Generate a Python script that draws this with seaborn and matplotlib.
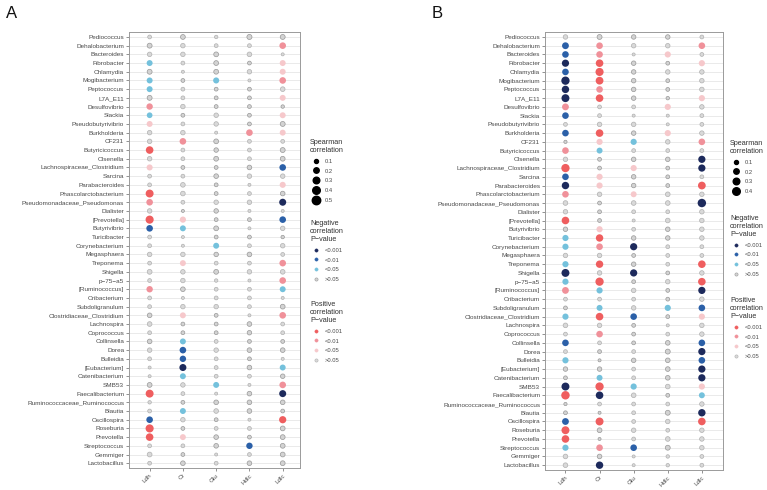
import numpy as np
import pandas as pd
import matplotlib
matplotlib.use("Agg")
import matplotlib.pyplot as plt
import seaborn as sns
from matplotlib.lines import Line2D

genera = ["Pediococcus", "Dehalobacterium", "Bacteroides", "Fibrobacter", "Chlamydia",
          "Mogibacterium", "Peptococcus", "L7A_E11", "Desulfovibrio", "Slackia",
          "Pseudobutyrivibrio", "Burkholderia", "CF231", "Butyricicoccus", "Olsenella",
          "Lachnospiraceae_Clostridium", "Sarcina", "Parabacteroides", "Phascolarctobacterium",
          "Pseudomonadaceae_Pseudomonas", "Dialister", "[Prevotella]", "Butyrivibrio",
          "Turicibacter", "Corynebacterium", "Megasphaera", "Treponema", "Shigella",
          "p\u221275\u2212a5", "[Ruminococcus]", "Oribacterium", "Subdoligranulum",
          "Clostridiaceae_Clostridium", "Lachnospira", "Coprococcus", "Collinsella", "Dorea",
          "Bulleidia", "[Eubacterium]", "Catenibacterium", "SMB53", "Faecalibacterium",
          "Ruminococcaceae_Ruminococcus", "Blautia", "Oscillospira", "Roseburia", "Prevotella",
          "Streptococcus", "Gemmiger", "Lactobacillus"]
measures = ["Ldh", "Cr", "Glu", "Hdlc", "Ldlc"]

# token: letter = direction & p-value class, number = |Spearman r| x 100
# N: neg p<0.001, B: neg p<0.01, L: neg p<0.05, G: neg p>0.05
# R: pos p<0.001, P: pos p<0.01, K: pos p<0.05, W: pos p>0.05
A_Ldh = ("W09 G16 W13 L24 G16 L24 L24 G16 P28 L22 K24 W13 W13 R40 W13 K25 W09 W09 R44 P30 "
         "W13 R46 B30 W09 W09 W13 W09 W15 W09 P28 W09 W09 G14 W14 W09 G14 W13 W09 W05 W05 "
         "G15 R44 W07 W09 B30 R46 R40 W09 W15 W09").split()
A_Cr = ("G15 W13 W13 W09 W05 G09 W09 W09 W13 G09 W09 W13 P30 W09 W09 G09 W09 W14 W14 W09 "
        "G05 K26 L24 W05 W05 W13 K24 W13 W13 G14 W05 W13 K24 G09 G09 L24 B30 B28 N34 L24 "
        "W13 W09 G09 L24 W13 G09 K24 W09 G09 G14").split()
A_Glu = ("W07 W09 G15 G15 G15 L25 G09 G09 G09 W13 W13 W05 G15 G13 G15 G09 G14 G09 G09 W13 "
         "G13 G09 G15 G09 L24 G13 W09 G15 W07 W09 W09 W13 G09 G09 G09 W09 W13 W09 W09 W09 "
         "L24 W05 G14 W14 G09 W09 G14 G14 W05 W09").split()
A_Hdlc = ("G17 W09 W14 G09 W13 W05 G09 G09 G09 G09 G09 P30 W09 W09 W09 G14 W13 W05 W09 W13 "
          "W05 G09 W05 G09 W09 G14 W09 W13 W05 W09 W09 W09 W05 G14 G13 G09 G14 G09 G14 W09 "
          "W05 G14 G14 G14 W05 W09 G09 B28 W09 G14").split()
A_Ldlc = ("G16 P30 W05 K24 K24 P30 W14 K24 G07 K24 G16 K24 W09 G16 G15 B30 W13 K25 G14 N34 "
          "W05 B30 W13 G07 W13 W09 P30 W14 P30 L24 W05 G15 P30 W09 W09 G09 G14 W05 L24 G13 "
          "P30 N34 G14 G09 R36 G15 G15 G15 G15 G15").split()

B_Ldh = ("W13 B32 B30 N36 B30 N48 N38 N44 P32 B30 W09 B30 G06 P30 W13 R48 B30 N38 P30 W14 "
         "W13 R40 G13 L26 L26 W13 L26 N44 L26 P32 W09 G09 L26 W14 W09 B30 W09 L26 G13 G09 "
         "N44 R52 G06 G09 B32 R44 R40 L26 W14 W14").split()
B_Cr = ("G16 P30 P30 R40 R46 R42 P30 R40 W09 W09 W13 R40 K26 L24 G09 G09 K26 K26 W13 G09 "
        "G09 G09 K26 R38 P30 W13 R38 W13 R48 L26 W09 L24 R40 W13 P30 W09 G09 G05 G13 L24 "
        "R48 N40 W09 G05 R44 G15 G05 P30 G14 N38").split()
B_Glu = ("G13 W13 W05 G13 G13 G13 G13 G13 W09 W05 W13 G13 L26 W09 G13 K26 G13 G13 K24 W14 "
         "W09 W05 W09 G13 N36 G09 G13 N36 G09 W13 W09 W13 B30 G09 G09 G09 W09 G13 W09 W09 "
         "L26 W14 W09 W09 W09 W13 W09 B30 W05 W05").split()
B_Hdlc = ("G13 W13 K26 G09 W13 G09 G09 G07 K26 W05 W05 K26 W13 W09 G13 G09 G09 G09 W14 W14 "
          "W09 W14 G13 G13 W09 W09 W09 G09 W13 G09 G09 L26 G09 W05 W09 G14 G16 G14 G14 G14 "
          "W14 G09 W09 G16 W13 W09 W14 G16 W07 W07").split()
B_Ldlc = ("W09 P30 W09 K26 W13 W13 W13 K26 W13 W09 W09 W13 P30 W09 N36 N36 W09 R42 W13 N55 "
          "W13 W13 W13 W13 W09 W09 R40 W13 R40 N36 W13 B30 K26 W13 W13 B30 N36 B30 N36 N36 "
          "K26 L24 W13 N38 R40 W13 W13 W13 W09 W09").split()

panel_A = [A_Ldh, A_Cr, A_Glu, A_Hdlc, A_Ldlc]
panel_B = [B_Ldh, B_Cr, B_Glu, B_Hdlc, B_Ldlc]

classes = {"N": "neg <0.001", "B": "neg <0.01", "L": "neg <0.05", "G": "neg >0.05",
           "R": "pos <0.001", "P": "pos <0.01", "K": "pos <0.05", "W": "pos >0.05"}
palette = {"neg <0.001": "#1d2a5c", "neg <0.01": "#2b60a8", "neg <0.05": "#74c1dc",
           "neg >0.05": "#d3d3d3", "pos <0.001": "#ef5e5f", "pos <0.01": "#f0919a",
           "pos <0.05": "#f6c8cb", "pos >0.05": "#d9d9d9"}
edges = {"neg >0.05": "#989898", "pos >0.05": "#b0b0b0"}


def build(cols):
    rows = []
    for m, col in zip(measures, cols):
        for g, tok in zip(genera, col):
            cls = classes[tok[0]]
            r = int(tok[1:]) / 100
            rho = -r if cls.startswith("neg") else r
            rows.append({"genus": g, "measure": m, "rho": rho, "absr": r, "sig": cls})
    return pd.DataFrame(rows)


SMIN, SMAX = 1.2, 37.0


def msize(r):
    return np.sqrt(SMIN + (SMAX - SMIN) * r / 0.5)


sns.set_style("white")
plt.rcParams["font.family"] = ["Liberation Sans", "DejaVu Sans"]

W, H = 767, 490
fig = plt.figure(figsize=(W / 100, H / 100), dpi=100)

TXT = "#4a4a4a"


def draw_panel(df, rect, xlim):
    ax = fig.add_axes(rect)
    ec = [edges.get(s, "none") for s in df["sig"]]
    sns.scatterplot(data=df, x="measure", y="genus", hue="sig", palette=palette,
                    size="absr", sizes=(SMIN, SMAX), size_norm=(0, 0.5),
                    edgecolor=ec, linewidth=0.5, legend=False, ax=ax, zorder=3)
    ax.set_ylim(49.55, -0.57)
    ax.set_xlim(*xlim)
    ax.set_xlabel("")
    ax.set_ylabel("")
    ax.yaxis.grid(True, color="#e6e6e6", lw=0.6)
    ax.xaxis.grid(False)
    ax.set_axisbelow(True)
    for s in ax.spines.values():
        s.set_visible(True)
        s.set_color("#9a9a9a")
        s.set_linewidth(0.7)
    ax.tick_params(axis="y", length=2, width=0.5, color="#666666", pad=1.5,
                   labelsize=4.6, labelcolor=TXT, left=True)
    ax.tick_params(axis="x", length=2, width=0.5, color="#666666", pad=1.5,
                   labelsize=4.6, labelcolor=TXT, bottom=True)
    for lab in ax.get_xticklabels():
        lab.set_rotation(45)
        lab.set_ha("right")
        lab.set_rotation_mode("anchor")
    return ax


def add_legends(x0, tops, breaks):
    common = dict(loc="upper left", frameon=False, fontsize=4.2, title_fontsize=5.2,
                  alignment="left", handlelength=2, handletextpad=0.6, labelspacing=0.8,
                  borderpad=0, borderaxespad=0, labelcolor=TXT)
    h1 = [Line2D([], [], ls="", marker="o", markersize=msize(b), color="black") for b in breaks]
    l1 = fig.legend(h1, [f"{b:.1f}" for b in breaks], title="Spearman\ncorrelation",
                    bbox_to_anchor=(x0 / W, 1 - tops[0] / H), **common)
    negs = ["neg <0.001", "neg <0.01", "neg <0.05", "neg >0.05"]
    poss = ["pos <0.001", "pos <0.01", "pos <0.05", "pos >0.05"]
    labs = ["<0.001", "<0.01", "<0.05", ">0.05"]
    h2 = [Line2D([], [], ls="", marker="o", markersize=2.3, markerfacecolor=palette[k],
                 markeredgecolor=edges.get(k, palette[k]), markeredgewidth=0.4) for k in negs]
    l2 = fig.legend(h2, labs, title="Negative\ncorrelation\nP\u2212value",
                    bbox_to_anchor=(x0 / W, 1 - tops[1] / H), **common)
    h3 = [Line2D([], [], ls="", marker="o", markersize=2.3, markerfacecolor=palette[k],
                 markeredgecolor=edges.get(k, palette[k]), markeredgewidth=0.4) for k in poss]
    l3 = fig.legend(h3, labs, title="Positive\ncorrelation\nP\u2212value",
                    bbox_to_anchor=(x0 / W, 1 - tops[2] / H), **common)
    for lg in (l1, l2, l3):
        lg.get_title().set_color("#333333")


dfA = build(panel_A)
dfB = build(panel_B)

draw_panel(dfA, [129 / W, 1 - 468 / H, 171 / W, 436 / H], (-0.62, 4.52))
draw_panel(dfB, [545 / W, 1 - 470 / H, 178 / W, 438 / H], (-0.6, 4.62))

add_legends(310, (139, 220, 301), [0.1, 0.2, 0.3, 0.4, 0.5])
add_legends(730, (140, 215, 297), [0.1, 0.2, 0.3, 0.4])

fig.text(6 / W, 1 - 6 / H, "A", fontsize=12, va="top", ha="left", color="#111111")
fig.text(432 / W, 1 - 6 / H, "B", fontsize=12, va="top", ha="left", color="#111111")

fig.savefig("out.png", dpi=100)
